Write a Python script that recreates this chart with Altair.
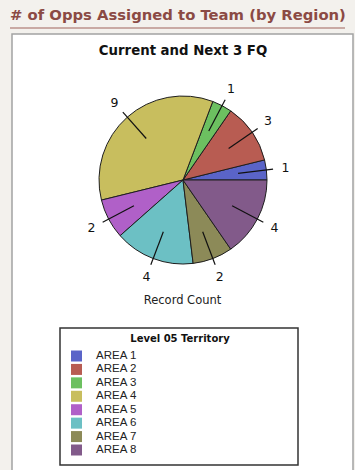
import math
import altair as alt
import pandas as pd

# ---- data ----
areas = ["AREA 1", "AREA 2", "AREA 3", "AREA 4", "AREA 5", "AREA 6", "AREA 7", "AREA 8"]
counts = [1, 3, 1, 9, 2, 4, 2, 4]
colors = ["#5a64c8", "#b85c52", "#6cc060", "#c8be5e", "#b060c8", "#6cc0c4", "#8c8a58", "#825a8a"]

header = "# of Opps Assigned to Team (by Region)"
chart_title = "Current and Next 3 FQ"
axis_title = "Record Count"
legend_title = "Level 05 Territory"

# ---- layout (plot-area pixels) ----
W, H = 341, 440
CX, CY = 171, 146
R = 84

df = pd.DataFrame({"area": areas, "count": counts, "order": list(range(len(areas)))})

xs = alt.Scale(domain=[-CX, W - CX], nice=False, zero=False)
ys = alt.Scale(domain=[-(H - CY), CY], nice=False, zero=False)

base = (
    alt.Chart(df)
    .transform_window(cum="sum(count)", sort=[alt.SortField("order")], frame=[None, 0])
    .transform_joinaggregate(total="sum(count)")
    .transform_calculate(
        f0="(datum.cum - datum.count) / datum.total",
        f1="datum.cum / datum.total",
        ang="PI * (2 * datum.cum - datum.count) / datum.total",
    )
    .transform_calculate(
        lx1=f"cos(datum.ang) * {R * 0.66}",
        ly1=f"sin(datum.ang) * {R * 0.66}",
        lx2=f"cos(datum.ang) * {R * 1.08}",
        ly2=f"sin(datum.ang) * {R * 1.08}",
        tx=f"cos(datum.ang) * {R * 1.23}",
        ty=f"sin(datum.ang) * {R * 1.23}",
    )
)

color = alt.Color("area:N", scale=alt.Scale(domain=areas, range=colors), legend=None)

pie = base.mark_arc(radius=R, stroke="#1e1e1e", strokeWidth=1).encode(
    x=alt.XDatum(0, type="quantitative", scale=xs, axis=None),
    y=alt.YDatum(0, type="quantitative", scale=ys, axis=None),
    theta=alt.Theta("f0:Q", scale=alt.Scale(domain=[0, 1], range=[2.5 * math.pi, 0.5 * math.pi]), stack=None),
    theta2="f1:Q",
    color=color,
)

leaders = base.mark_rule(color="#111111", strokeWidth=1.2).encode(
    x=alt.X("lx1:Q", scale=xs, axis=None),
    y=alt.Y("ly1:Q", scale=ys, axis=None),
    x2="lx2:Q",
    y2="ly2:Q",
)

labels = base.mark_text(font="DejaVu Sans", fontSize=12.5, color="#111111").encode(
    x=alt.X("tx:Q", scale=xs, axis=None),
    y=alt.Y("ty:Q", scale=ys, axis=None),
    text="count:Q",
)

one = alt.Data(values=[{"k": 0}])

header_txt = alt.Chart(one).mark_text(
    text=header, font="DejaVu Sans", fontSize=14.8, fontWeight="bold", color="#8b4a44",
    align="left", baseline="middle",
).encode(x=alt.value(-2), y=alt.value(-18))

underline = alt.Chart(one).mark_rule(color="#c9aaa4", strokeWidth=2).encode(
    x=alt.value(-2), x2=alt.value(333), y=alt.value(-6)
)

title_txt = alt.Chart(one).mark_text(
    text=chart_title, font="DejaVu Sans", fontSize=13.3, fontWeight="bold", color="#111111",
    align="center", baseline="middle",
).encode(x=alt.value(171), y=alt.value(17))

axis_txt = alt.Chart(one).mark_text(
    text=axis_title, font="DejaVu Sans", fontSize=11.5, color="#222222",
    align="center", baseline="middle",
).encode(x=alt.value(170.5), y=alt.value(267))

legend_box = alt.Chart(one).mark_rect(fill="white", stroke="#333333", strokeWidth=1.5).encode(
    x=alt.value(48), x2=alt.value(286), y=alt.value(294), y2=alt.value(431)
)

legend_title_txt = alt.Chart(one).mark_text(
    text=legend_title, font="DejaVu Sans", fontSize=10, fontWeight="bold", color="#111111",
    align="center", baseline="middle",
).encode(x=alt.value(168), y=alt.value(305))

ly = alt.Y("area:N", scale=alt.Scale(domain=areas, range=[322, 416], padding=0), axis=None)

swatches = alt.Chart(df).mark_square(size=121, opacity=1, strokeWidth=0).encode(
    x=alt.value(64.5), y=ly, color=color
)

legend_labels = alt.Chart(df).mark_text(
    font="Liberation Sans", fontSize=11.5, color="#222222", align="left", baseline="middle"
).encode(x=alt.value(84), y=ly, text="area:N")

pie_group = alt.layer(pie, leaders, labels, header_txt, underline, title_txt, axis_txt)
legend_group = alt.layer(legend_box, legend_title_txt, swatches, legend_labels)

chart = (
    alt.layer(pie_group, legend_group)
    .resolve_scale(y="independent")
    .properties(
        width=W,
        height=H,
        background="#f3f1ed",
        padding={"left": 12, "top": 34, "right": 2, "bottom": 0},
        autosize=alt.AutoSizeParams(type="none"),
    )
    .configure_view(stroke="#a3a3a3", strokeWidth=1.5, fill="white")
)

chart.save("out.html", embed_options={"renderer": "svg", "actions": False})
